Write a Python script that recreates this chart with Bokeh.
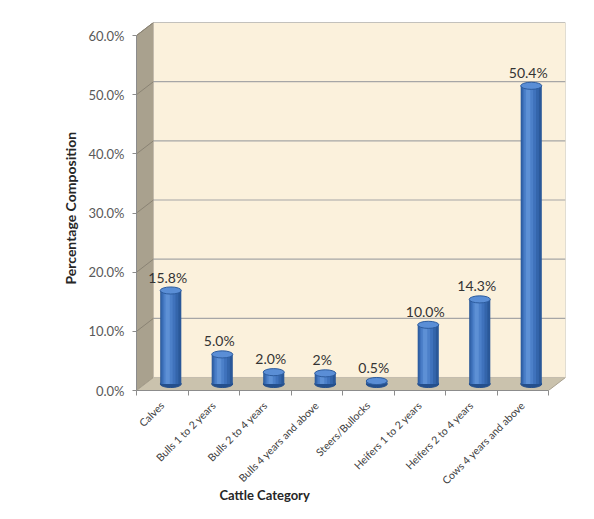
import math
from bokeh.plotting import figure
from bokeh.models import Range1d, FixedTicker, PrintfTickFormatter, Title, ColumnDataSource, LabelSet
from bokeh.transform import dodge
from bokeh.embed import file_html
from bokeh.resources import INLINE
from bokeh.core.properties import value

# ---- data ----
categories = ["Calves", "Bulls 1 to 2 years", "Bulls 2 to 4 years", "Bulls 4 years and above",
              "Steers/Bullocks", "Heifers 1 to 2 years", "Heifers 2 to 4 years", "Cows 4 years and above"]
values = [15.8, 5.0, 2.0, 1.8, 0.5, 10.0, 14.3, 50.4]
value_labels = ["15.8%", "5.0%", "2.0%", "2%", "0.5%", "10.0%", "14.3%", "50.4%"]
y_ticks = [0, 10, 20, 30, 40, 50, 60]

# ---- 3D geometry (style) ----
n = len(categories)
DX = 0.33   # depth in category units
DY = 2.2    # depth in percent units
x_start, x_end = 0.5, n + 0.5
y_top = y_ticks[-1]
BW = 0.41   # cylinder width
EH = 1.2    # ellipse height (data units)

FONT = "Lato"

p = figure(width=578, height=511, output_backend="svg", toolbar_location=None,
           x_range=Range1d(x_start, x_end + DX), y_range=Range1d(0, y_top + DY),
           min_border_left=136, min_border_right=13, min_border_top=22, min_border_bottom=121)
p.outline_line_color = None
p.grid.visible = False
p.background_fill_color = "white"
p.border_fill_color = "white"

# ---- walls ----
p.patch([x_start, x_start + DX, x_start + DX, x_start], [0, DY, y_top + DY, y_top],
        fill_color="#A9A18E", line_color="#8E8676", line_width=1)
p.patch([x_start, x_end, x_end + DX, x_start + DX], [0, 0, DY, DY],
        fill_color="#CAC2AD", line_color="#A9A18F", line_width=1)
p.quad(left=x_start + DX, right=x_end + DX, bottom=DY, top=y_top + DY,
       fill_color="#FBF1DC", line_color="#C4BDAE", line_width=1)

gt = y_ticks[1:]
p.segment(x0=[x_start + DX] * len(gt), y0=[t + DY for t in gt],
          x1=[x_end + DX] * len(gt), y1=[t + DY for t in gt],
          line_color="#A6A6A6", line_width=1.2)
p.segment(x0=[x_start] * len(gt), y0=gt, x1=[x_start + DX] * len(gt), y1=[t + DY for t in gt],
          line_color="#8A8374", line_width=1)

# ---- cylinders ----
src = ColumnDataSource(dict(
    x=[i + 1 + DX / 2 for i in range(n)],
    bottom=[DY / 2] * n,
    top=[v + DY / 2 for v in values],
    label=value_labels,
))
p.ellipse(x="x", y="bottom", width=BW, height=EH, fill_color="#244F8C", line_color="#244F8C", source=src)
shades = [(1.0, 0.0, "#2A5899"), (0.82, -0.02, "#3465AB"), (0.62, -0.035, "#3F72BC"),
          (0.42, -0.05, "#4C80C9"), (0.2, -0.06, "#5D90D5")]
for frac, off, col in shades:
    p.vbar(x=dodge("x", off, range=p.x_range), bottom="bottom", top="top", width=BW * frac,
           fill_color=col, line_color=None, source=src)
p.ellipse(x="x", y="top", width=BW, height=EH, fill_color="#5A8ED6", line_color="#2D5C9E",
          line_width=1, source=src)

labels = LabelSet(x="x", y="top", text="label", text_align="center", text_baseline="alphabetic",
                  x_offset=-3, y_offset=8, text_font=value(FONT), text_font_size=value("14px"),
                  text_color=value("#333333"), source=src)
p.add_layout(labels)

# ---- axes ----
xa = p.xaxis[0]
xa.ticker = FixedTicker(ticks=list(range(1, n + 1)), minor_ticks=[i + 0.5 for i in range(n + 1)])
xa.major_label_overrides = {i + 1: c for i, c in enumerate(categories)}
xa.major_label_orientation = math.pi / 4
xa.major_tick_line_color = None
xa.major_tick_out = 5
xa.major_tick_in = 0
xa.minor_tick_line_color = "#8C8C8C"
xa.minor_tick_out = 5
xa.minor_tick_in = 0
xa.bounds = (x_start, x_end)
xa.axis_line_color = "#8C8C8C"
xa.major_label_text_font = FONT
xa.major_label_text_font_size = "10.5px"
xa.major_label_text_color = "#404040"
xa.major_label_standoff = 8

ya = p.yaxis[0]
ya.ticker = FixedTicker(ticks=y_ticks, minor_ticks=[])
ya.formatter = PrintfTickFormatter(format="%.1f%%")
ya.bounds = (0, y_top)
ya.major_tick_out = 4
ya.major_tick_in = 0
ya.major_tick_line_color = "#8C8C8C"
ya.minor_tick_line_color = None
ya.axis_line_color = "#8C8C8C"
ya.major_label_text_font = FONT
ya.major_label_text_font_size = "13px"
ya.major_label_text_color = "#595959"
ya.major_label_standoff = 8
ya.axis_label = "Percentage  Composition"
ya.axis_label_text_font = FONT
ya.axis_label_text_font_size = "14px"
ya.axis_label_text_font_style = "bold"
ya.axis_label_text_color = "#262626"
ya.axis_label_standoff = 6

p.add_layout(Title(text="Cattle Category", align="left", offset=83, text_font=FONT,
                   text_font_size="13px", text_font_style="bold", text_color="#262626",
                   standoff=-18), "below")

open("out.html", "w").write(file_html(p, INLINE))
